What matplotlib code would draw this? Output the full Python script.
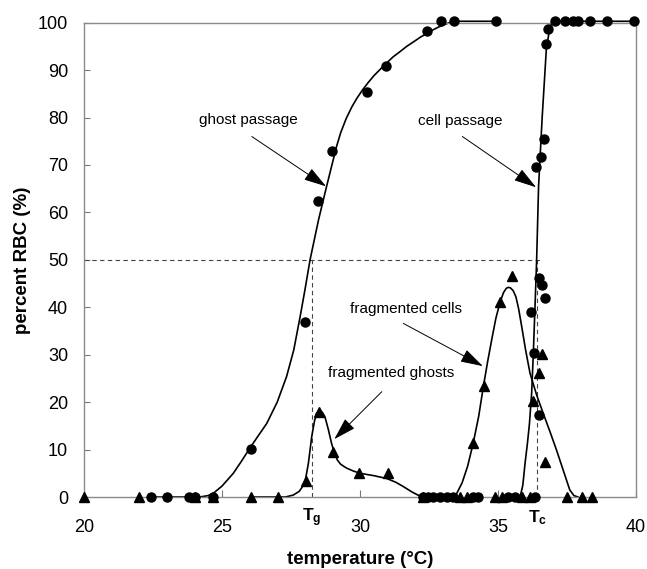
import matplotlib
matplotlib.use("Agg")
import matplotlib.pyplot as plt

plt.rcParams['font.family'] = ['Liberation Sans', 'DejaVu Sans']
plt.rcParams['mathtext.fontset'] = 'custom'
plt.rcParams['mathtext.bf'] = 'Liberation Sans:bold'
plt.rcParams['mathtext.rm'] = 'Liberation Sans'

# ---- data: measured points ----
ghost_T = [22.42, 23.02, 23.82, 24.02, 24.66, 26.04, 28.0, 28.48, 28.98, 30.24,
           30.94, 32.43, 32.94, 33.4, 34.93]
ghost_pct = [0, 0, 0, 0, 0, 10.2, 36.8, 62.5, 73.0, 85.3, 90.8, 98.3, 100.3, 100.3, 100.3]

cell_T = [32.29, 32.47, 32.65, 32.9, 33.14, 33.38, 34.1, 34.28, 35.37, 35.62, 36.34,
          36.18, 36.32, 36.5, 36.49, 36.61, 36.7, 36.37, 36.57, 36.67, 36.75, 36.81,
          37.07, 37.43, 37.72, 37.9, 38.33, 38.95, 39.93]
cell_pct = [0, 0, 0, 0, 0, 0, 0, 0, 0, 0, 0,
            38.9, 30.3, 17.2, 46.1, 44.6, 41.9, 69.5, 71.6, 75.5, 95.6, 98.7,
            100.3, 100.3, 100.3, 100.3, 100.3, 100.3, 100.3]

frag_ghost_T = [20.0, 22.0, 24.02, 24.66, 26.04, 27.04, 28.05, 28.51, 29.03, 29.97, 31.03, 32.3]
frag_ghost_pct = [0, 0, 0, 0, 0, 0, 3.3, 17.9, 9.4, 5.1, 5.0, 0]

frag_cell_T = [33.62, 33.86, 34.89, 35.13, 35.86, 36.16, 37.49, 38.03, 38.39,
               34.1, 34.5, 35.07, 35.49, 36.26, 36.5, 36.61, 36.72]
frag_cell_pct = [0, 0, 0, 0, 0, 0, 0, 0, 0,
                 11.3, 23.3, 41.2, 46.5, 20.3, 26.1, 30.2, 7.3]

# ---- data: fitted curves ----
ghost_fit_T = [22.42, 24.2, 24.5, 24.69, 25.0, 25.41, 25.7, 26.01, 26.3, 26.62, 27.0,
               27.34, 27.6, 27.83, 28.0, 28.19, 28.5, 28.79, 29.0, 29.15, 29.3, 29.5,
               29.7, 29.88, 30.1, 30.3, 30.5, 30.72, 31.0, 31.2, 31.45, 31.69, 31.95,
               32.2, 32.45, 32.65, 32.85, 33.05, 33.38, 34.93]
ghost_fit_pct = [0, 0, 0.3, 0.8, 2.3, 5.0, 7.5, 10.3, 12.8, 15.5, 20.0,
                 25.4, 31.0, 38.0, 43.5, 50.0, 58.5, 65.5, 70.4, 73.9, 76.8, 79.8,
                 82.2, 84.0, 85.9, 87.4, 88.8, 90.1, 91.7, 92.8, 93.9, 95.0, 96.0,
                 97.0, 97.8, 98.5, 99.1, 99.6, 100.3, 100.3]

cell_fit_T = [35.8, 35.9, 35.98, 36.07, 36.14, 36.22, 36.28, 36.34, 36.4, 36.47,
              36.6, 36.75, 36.85, 36.92, 36.97, 39.93]
cell_fit_pct = [0, 2.5, 7.1, 11.5, 15.5, 22.0, 30.3, 40.0, 50.0, 65.5,
                80.0, 94.3, 98.0, 99.6, 100.3, 100.3]

frag_cell_fit_T = [33.44, 33.7, 33.9, 34.1, 34.3, 34.47, 34.62, 34.77, 34.92, 35.07,
                   35.2, 35.3, 35.37, 35.45, 35.55, 35.65, 35.75, 35.86, 36.0, 36.16,
                   36.4, 36.64, 36.9, 37.12, 37.4, 37.6, 37.75, 37.9]
frag_cell_fit_pct = [0, 3.0, 6.5, 11.3, 17.0, 23.3, 28.4, 33.1, 37.6, 41.0,
                     43.1, 44.0, 44.2, 44.1, 43.5, 42.2, 39.6, 35.9, 31.0, 26.1,
                     21.5, 17.6, 13.5, 9.9, 5.0, 1.5, 0.3, 0]

frag_ghost_fit_T = [26.04, 27.3, 27.58, 27.8, 28.0, 28.13, 28.25, 28.35, 28.43, 28.53,
                    28.63, 28.73, 28.85, 28.97, 29.07, 29.18, 29.3, 29.51, 29.75, 30.0,
                    30.5, 30.97, 31.3, 31.57, 31.9, 32.17, 32.3]
frag_ghost_fit_pct = [0, 0, 0.4, 1.2, 2.9, 7.1, 12.7, 16.0, 17.7, 18.2,
                      17.9, 16.9, 14.3, 11.3, 9.3, 7.8, 6.9, 6.1, 5.5, 5.0,
                      4.5, 3.9, 3.1, 2.2, 1.0, 0.2, 0]

Tg = 28.25
Tc = 36.4
half_level = 50

x_ticks = [20, 25, 30, 35, 40]
y_ticks = [0, 10, 20, 30, 40, 50, 60, 70, 80, 90, 100]

annotations = [
    ("ghost passage", (25.94, 79.5), (26.08, 76.0), (28.77, 65.5)),
    ("cell passage", (33.62, 79.3), (33.71, 76.0), (36.38, 65.3)),
    ("fragmented cells", (31.67, 39.7), (31.57, 36.6), (34.45, 27.6)),
    ("fragmented ghosts", (31.14, 26.2), (30.79, 22.2), (29.07, 12.2)),
]

# ---- figure ----
fig = plt.figure(figsize=(6.47, 5.69), dpi=100)
ax = fig.add_axes([84 / 647, 1 - 497 / 569, 552 / 647, 474.3 / 569])

ax.set_xlim(20, 40)
ax.set_ylim(0, 100)

dash = dict(color='#444444', lw=0.8, dashes=(4, 3))
ax.plot([20, Tc + 0.2], [half_level, half_level], **dash)
ax.plot([Tg, Tg], [0, half_level], **dash)
ax.plot([Tc, Tc], [0, half_level], **dash)

lw = 1.2
for xs, ys in [(ghost_fit_T, ghost_fit_pct), (cell_fit_T, cell_fit_pct),
               (frag_cell_fit_T, frag_cell_fit_pct), (frag_ghost_fit_T, frag_ghost_fit_pct)]:
    ax.plot(xs, ys, color='black', lw=lw, clip_on=False, solid_joinstyle='round')

ax.plot(ghost_T, ghost_pct, 'o', color='black', ms=6.5, clip_on=False, zorder=5)
ax.plot(cell_T, cell_pct, 'o', color='black', ms=6.5, clip_on=False, zorder=5)
ax.plot(frag_ghost_T, frag_ghost_pct, '^', color='black', ms=7, clip_on=False, zorder=5)
ax.plot(frag_cell_T, frag_cell_pct, '^', color='black', ms=7, clip_on=False, zorder=5)

for label, txt_xy, tail, tip in annotations:
    ax.text(txt_xy[0], txt_xy[1], label, fontsize=11, ha='center', va='center')
    ax.annotate('', xy=tip, xytext=tail,
                arrowprops=dict(arrowstyle='-|>,head_length=1.0,head_width=0.3',
                                color='black', lw=0.7, shrinkA=0, shrinkB=0,
                                mutation_scale=14))

ax.text(Tg, -4.3, r'$\mathbf{T_g}$', fontsize=12.5, ha='center', va='center', clip_on=False)
ax.text(Tc + 0.05, -4.3, r'$\mathbf{T_c}$', fontsize=12.5, ha='center', va='center', clip_on=False)

for s in ax.spines.values():
    s.set_color('#8a8a8a')
    s.set_linewidth(1.0)

ax.set_xticks(x_ticks)
ax.set_yticks(y_ticks)
ax.tick_params(axis='x', direction='in', length=5, width=0.8, color='#777777',
               labelsize=13, pad=16)
ax.tick_params(axis='y', direction='in', length=4, width=0.8, color='#777777',
               labelsize=13, pad=11.5)

ax.set_xlabel('temperature (°C)', fontsize=13.5, fontweight='bold', va='center')
ax.xaxis.set_label_coords(0.5, (497 - 560) / 474.3)
ax.set_ylabel('percent RBC (%)', fontsize=13.5, fontweight='bold', va='center', ha='center')
ax.yaxis.set_label_coords((23 - 84) / 552, 0.5)

fig.savefig('out.png', dpi=100)
